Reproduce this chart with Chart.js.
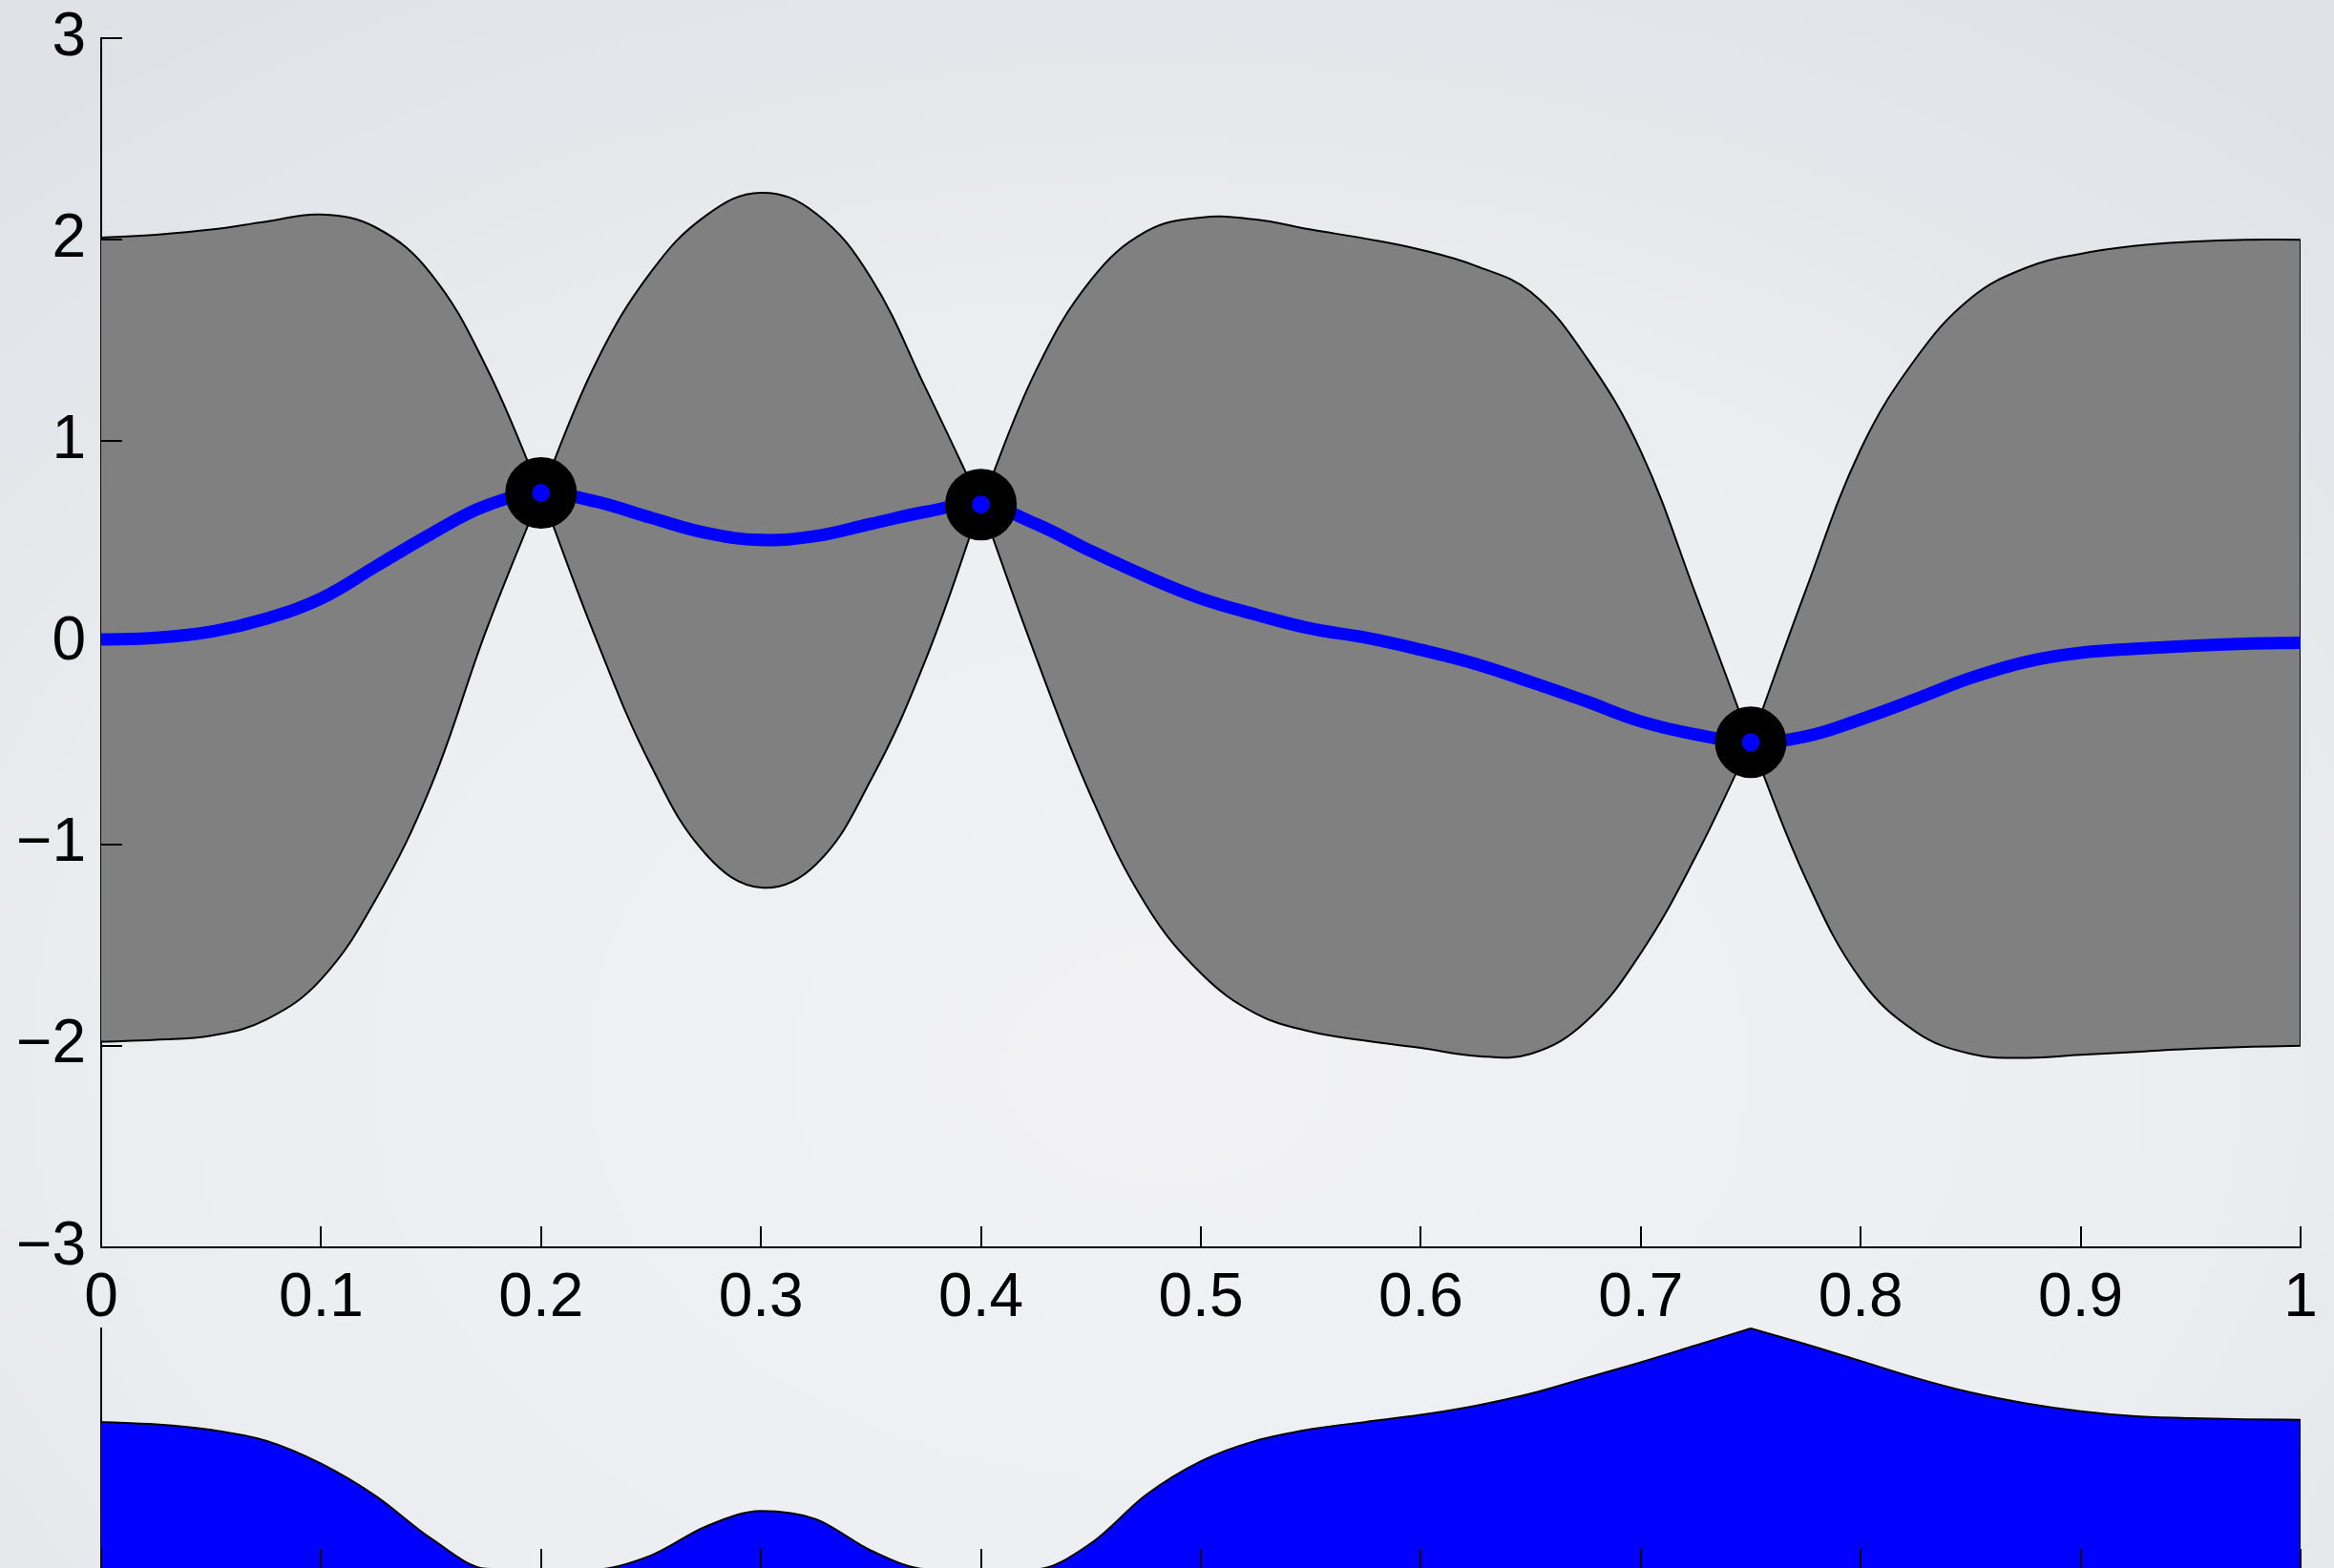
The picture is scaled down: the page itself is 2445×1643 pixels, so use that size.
<!DOCTYPE html>
<html>
<head>
<meta charset="utf-8">
<title>GP posterior and acquisition</title>
<script src="https://cdn.jsdelivr.net/npm/chart.js@4.4.1/dist/chart.umd.min.js"></script>
<style>
    html, body {
        margin: 0;
        padding: 0;
        width: 2445px;
        height: 1643px;
        overflow: hidden;
    }
    body {
        position: relative;
        background: radial-gradient(ellipse 75% 80% at 50% 68%, #f2f2f5 0%, #eceef1 55%, #dfe2e6 100%);
    }
    #gpWrap { position: absolute; left: 0; top: 0; width: 2445px; height: 1400px; }
    #acqWrap { position: absolute; left: 0; top: 1300px; width: 2445px; height: 400px; }
</style>
</head>
<body>
<div id="gpWrap"><canvas id="gpChart"></canvas></div>
<div id="acqWrap"><canvas id="acqChart"></canvas></div>

<script>
// Sample positions (every 0.025) shared by every curve
const xs = [0, 0.025, 0.05, 0.075, 0.1, 0.125, 0.15, 0.175, 0.2, 0.225, 0.25, 0.275, 0.3, 0.325, 0.35, 0.375,
    0.4, 0.425, 0.45, 0.475, 0.5, 0.525, 0.55, 0.575, 0.6, 0.625, 0.65, 0.675, 0.7, 0.725, 0.75, 0.775,
    0.8, 0.825, 0.85, 0.875, 0.9, 0.925, 0.95, 0.975, 1];

// Posterior mean
const meanY = [0.016, 0.025, 0.055, 0.12, 0.22, 0.38, 0.54, 0.68, 0.743, 0.7, 0.62, 0.545, 0.51, 0.53, 0.59, 0.65,
    0.686, 0.59, 0.455, 0.33, 0.22, 0.14, 0.07, 0.025, -0.035, -0.105, -0.195, -0.29, -0.39, -0.455, -0.494, -0.465,
    -0.38, -0.28, -0.175, -0.095, -0.05, -0.03, -0.015, -0.005, 0];

// Upper and lower edge of the confidence band
const upperY = [2.01, 2.025, 2.05, 2.09, 2.125, 2.06, 1.83, 1.37, 0.743, 1.39, 1.84, 2.12, 2.233, 2.13, 1.81, 1.26,
    0.686, 1.35, 1.8, 2.04, 2.11, 2.1, 2.05, 2.005, 1.95, 1.87, 1.74, 1.42, 0.95, 0.24, -0.494, 0.26,
    0.96, 1.41, 1.71, 1.86, 1.93, 1.97, 1.99, 2.0, 2.0];

const lowerY = [-1.98, -1.97, -1.95, -1.87, -1.67, -1.27, -0.71, 0.06, 0.743, 0.02, -0.61, -1.05, -1.215, -1.1, -0.68, -0.08,
    0.686, -0.07, -0.76, -1.3, -1.64, -1.84, -1.93, -1.975, -2.01, -2.05, -2.04, -1.88, -1.54, -1.06, -0.494, -1.17,
    -1.67, -1.93, -2.04, -2.06, -2.045, -2.03, -2.015, -2.005, -2.0];

// Observed points
const obsX = [0.2, 0.4, 0.75];
const obsY = [0.743, 0.686, -0.494];

// Acquisition function (lower panel), scaled so its peak is 1
const acqY = [0.613, 0.603, 0.58, 0.535, 0.44, 0.305, 0.13, 0.005, 0, 0.002, 0.06, 0.18, 0.244, 0.21, 0.08, 0.003,
    0, 0.002, 0.11, 0.31, 0.45, 0.535, 0.583, 0.613, 0.642, 0.68, 0.73, 0.795, 0.86, 0.93, 1.0, 0.935,
    0.865, 0.795, 0.735, 0.69, 0.657, 0.636, 0.628, 0.624, 0.622];

const xTickValues = [0, 0.1, 0.2, 0.3, 0.4, 0.5, 0.6, 0.7, 0.8, 0.9, 1];
const yTickValues = [-3, -2, -1, 0, 1, 2, 3];

const BLUE = '#0000ff';
const FONT = '"Liberation Sans", Arial, Helvetica, sans-serif';

function toPoints(xArr, yArr) {
    return xArr.map((x, i) => ({ x: x, y: yArr[i] }));
}

// Matlab style tick marks that point into the plot, drawn under the data
const inwardTicks = {
    id: 'inwardTicks',
    beforeDatasetsDraw(chart, args, opts) {
        const ctx = chart.ctx;
        const area = chart.chartArea;
        const len = opts.length || 22;
        ctx.save();
        ctx.strokeStyle = '#000';
        ctx.lineWidth = 2;
        ctx.beginPath();
        const xScale = chart.scales.x;
        xTickValues.forEach(v => {
            const px = Math.round(xScale.getPixelForValue(v));
            ctx.moveTo(px, area.bottom);
            ctx.lineTo(px, area.bottom - len);
        });
        if (opts.yTicks) {
            const yScale = chart.scales.y;
            yTickValues.forEach(v => {
                const py = Math.round(yScale.getPixelForValue(v));
                ctx.moveTo(area.left, py);
                ctx.lineTo(area.left + len, py);
            });
        }
        ctx.stroke();
        ctx.restore();
    }
};

function formatTick(v) {
    if (v < 0) return '\u2212' + Math.abs(v);
    return String(Math.round(v * 10) / 10);
}

// The band pinches at every observation, so it is drawn lobe by lobe
// (each lobe ends in a sharp corner instead of a rounded one)
function buildBandLobes() {
    const cuts = [0, ...obsX.map(x => xs.indexOf(x)), xs.length - 1];
    const sets = [];
    for (let k = 0; k < cuts.length - 1; k++) {
        const a = cuts[k], b = cuts[k + 1] + 1;
        sets.push({
            label: 'upper',
            data: toPoints(xs.slice(a, b), upperY.slice(a, b)),
            borderColor: '#000',
            borderWidth: 2,
            backgroundColor: '#808080',
            pointRadius: 0,
            tension: 0.4,
            fill: '+1',
            order: 2
        });
        sets.push({
            label: 'lower',
            data: toPoints(xs.slice(a, b), lowerY.slice(a, b)),
            borderColor: '#000',
            borderWidth: 2,
            pointRadius: 0,
            tension: 0.4,
            fill: false,
            order: 3
        });
    }
    return sets;
}

// Upper panel: GP posterior
function initPosteriorChart() {
    const ctx = document.getElementById('gpChart').getContext('2d');
    const last = xs.length - 1;

    new Chart(ctx, {
        type: 'line',
        data: {
            datasets: [{
                label: 'observations',
                data: toPoints(obsX, obsY),
                showLine: false,
                pointRadius: 23.5,
                pointBorderWidth: 28,
                pointBackgroundColor: BLUE,
                pointBorderColor: '#000',
                order: 0
            }, {
                label: 'mean',
                data: toPoints(xs, meanY),
                borderColor: BLUE,
                borderWidth: 13,
                pointRadius: 0,
                tension: 0.4,
                fill: false,
                order: 1
            },
            ...buildBandLobes(),
            {
                label: 'edge',
                data: [{ x: xs[last], y: upperY[last] }, { x: xs[last], y: lowerY[last] }],
                borderColor: '#000',
                borderWidth: 2,
                pointRadius: 0,
                fill: false,
                order: 2
            }]
        },
        options: {
            responsive: true,
            maintainAspectRatio: false,
            animation: false,
            devicePixelRatio: 1,
            layout: { autoPadding: false, padding: { left: 0, top: 31, right: 35, bottom: 0 } },
            scales: {
                x: {
                    type: 'linear',
                    min: 0,
                    max: 1,
                    afterFit: scale => { scale.height = 93; },
                    afterBuildTicks: scale => { scale.ticks = xTickValues.map(v => ({ value: v })); },
                    grid: { display: false },
                    border: { display: true, color: '#000', width: 2 },
                    ticks: {
                        color: '#000',
                        padding: 14,
                        maxRotation: 0,
                        autoSkip: false,
                        font: { family: FONT, size: 64, lineHeight: 1 },
                        callback: formatTick
                    }
                },
                y: {
                    type: 'linear',
                    min: -3,
                    max: 3,
                    z: 1,
                    afterFit: scale => { scale.width = 106; },
                    afterBuildTicks: scale => { scale.ticks = yTickValues.map(v => ({ value: v })); },
                    grid: { display: false },
                    border: { display: true, color: '#000', width: 2 },
                    ticks: {
                        color: '#000',
                        padding: 8,
                        font: { family: FONT, size: 64, lineHeight: 1 },
                        callback: formatTick
                    }
                }
            },
            plugins: {
                legend: { display: false },
                tooltip: { enabled: false },
                filler: { drawTime: 'beforeDatasetsDraw' },
                inwardTicks: { length: 22, yTicks: true }
            }
        },
        plugins: [inwardTicks]
    });
}

// Lower panel: acquisition function (split at its peak so the cusp stays sharp)
function initAcquisitionChart() {
    const ctx = document.getElementById('acqChart').getContext('2d');
    const peak = acqY.indexOf(Math.max(...acqY));
    const last = xs.length - 1;

    const acqPart = (a, b) => ({
        label: 'acquisition',
        data: toPoints(xs.slice(a, b), acqY.slice(a, b)),
        borderColor: '#000',
        borderWidth: 2,
        backgroundColor: BLUE,
        pointRadius: 0,
        cubicInterpolationMode: 'monotone',
        fill: 'origin',
        clip: false
    });

    new Chart(ctx, {
        type: 'line',
        data: {
            datasets: [
                acqPart(0, peak + 1),
                acqPart(peak, xs.length),
                {
                    label: 'edge',
                    data: [{ x: xs[last], y: 0 }, { x: xs[last], y: acqY[last] }],
                    borderColor: '#000',
                    borderWidth: 2,
                    pointRadius: 0,
                    fill: false
                }
            ]
        },
        options: {
            responsive: true,
            maintainAspectRatio: false,
            animation: false,
            devicePixelRatio: 1,
            layout: { autoPadding: false, padding: { left: 0, top: 92, right: 35, bottom: 0 } },
            scales: {
                x: {
                    type: 'linear',
                    min: 0,
                    max: 1,
                    afterFit: scale => { scale.height = 55; },
                    grid: { display: false },
                    border: { display: true, color: '#000', width: 2 },
                    ticks: { display: false }
                },
                y: {
                    type: 'linear',
                    min: 0,
                    max: 1,
                    z: 1,
                    afterFit: scale => { scale.width = 106; },
                    grid: { display: false },
                    border: { display: true, color: '#000', width: 2 },
                    ticks: { display: false }
                }
            },
            plugins: {
                legend: { display: false },
                tooltip: { enabled: false },
                filler: { drawTime: 'beforeDatasetsDraw' },
                inwardTicks: { length: 22, yTicks: false }
            }
        },
        plugins: [inwardTicks]
    });
}

document.addEventListener('DOMContentLoaded', () => {
    initPosteriorChart();
    initAcquisitionChart();
});
</script>
</body>
</html>
